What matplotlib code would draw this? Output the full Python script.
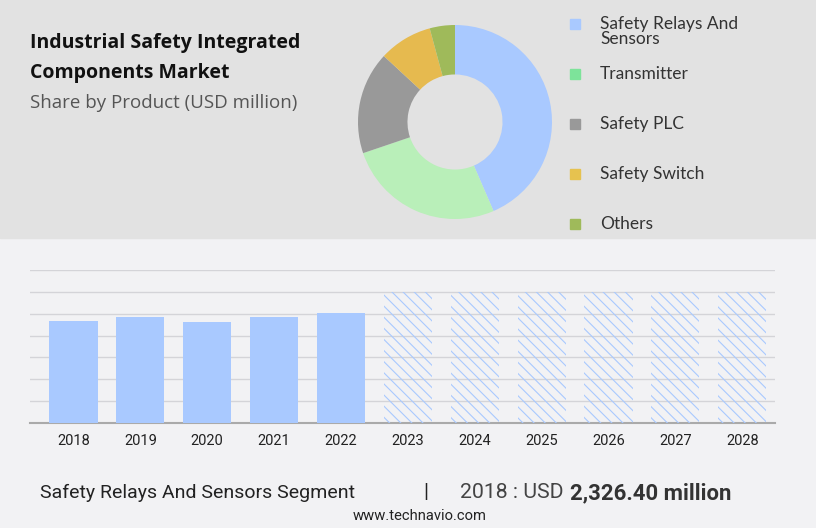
import matplotlib
matplotlib.use("Agg")
import matplotlib.pyplot as plt
from matplotlib.patches import Rectangle
from matplotlib import font_manager

# ---- data ----
years = ["2018", "2019", "2020", "2021", "2022", "2023", "2024", "2025", "2026", "2027", "2028"]
hist_values = [2326.40, 2420, 2320, 2420, 2515]
forecast_values = [3000, 3000, 3000, 3000, 3000, 3000]
segments = ["Safety Relays And\nSensors", "Transmitter", "Safety PLC", "Safety Switch", "Others"]
shares = [43.5, 26.3, 17.1, 8.9, 4.2]
pie_colors = ["#a9c9ff", "#b9efb9", "#999999", "#e6ba4f", "#9fba5a"]
legend_colors = ["#a9c9ff", "#7de39a", "#999999", "#e6c24f", "#9fba5a"]
y_ticks = [0, 500, 1000, 1500, 2000, 2500, 3000, 3500]

names = {f.name for f in font_manager.fontManager.ttflist}
narrow = "Liberation Sans Narrow" in names
foot_fam = ["Liberation Sans Narrow", "DejaVu Sans"] if narrow else ["Roboto", "DejaVu Sans"]
fs_scale = 1.0 if narrow else 0.85

W, H = 816, 528
fig = plt.figure(figsize=(W / 100, H / 100), dpi=100)
fig.patch.set_facecolor("#f2f2f4")
plt.rcParams["hatch.linewidth"] = 0.8

# top band
bg = fig.add_axes([0, 0, 1, 1])
bg.set_xlim(0, W)
bg.set_ylim(H, 0)
bg.axis("off")
bg.add_patch(Rectangle((0, 0), W, 238, color="#e2e2e2", zorder=0))

# titles
bg.text(30, 43, "Industrial Safety Integrated", fontsize=14, fontweight="bold",
        family=["Open Sans", "DejaVu Sans"], color="#111111", va="center", ha="left")
bg.text(30, 73, "Components Market", fontsize=14, fontweight="bold",
        family=["Open Sans", "DejaVu Sans"], color="#111111", va="center", ha="left")
bg.text(30, 103, "Share by Product (USD million)", fontsize=13.5,
        family=["Open Sans", "DejaVu Sans"], color="#555555", va="center", ha="left")

# legend
leg_y = [24, 74, 124, 174, 224]
for yy, lab, col in zip(leg_y, segments, legend_colors):
    bg.add_patch(Rectangle((570, yy - 5), 10, 10, color=col, zorder=2))
    lines = lab.split("\n")
    for k, ln in enumerate(lines):
        bg.text(600, yy + 15 * k, ln, fontsize=12.5, family=["Lato", "DejaVu Sans"],
                color="#333333", va="center")

# donut
cx, cy, r = 455, 122, 97
pax = fig.add_axes([(cx - r) / W, 1 - (cy + r) / H, 2 * r / W, 2 * r / H])
pax.pie(shares, colors=pie_colors, startangle=90, counterclock=False,
        wedgeprops=dict(width=0.51, linewidth=0))
pax.set_xlim(-1, 1)
pax.set_ylim(-1, 1)
pax.set_aspect("equal")
pax.axis("off")

# bar chart
ax = fig.add_axes([30 / W, (H - 423) / H, 745 / W, 153 / H])
ax.set_facecolor("none")
x_hist = list(range(len(hist_values)))
x_fc = list(range(len(hist_values), len(years)))
ax.bar(x_hist, hist_values, width=0.72, color="#a9c9ff", zorder=3)
ax.bar(x_fc, forecast_values, width=0.72, facecolor="none", edgecolor="#a9c9ff",
       linewidth=0, hatch="\\" * 3, zorder=3)
ax.set_xlim(-0.65, 10.49)
ax.set_ylim(0, 3500)
ax.set_yticks(y_ticks)
ax.yaxis.grid(True, color="#d4d4d8", linewidth=1)
ax.set_axisbelow(True)
ax.tick_params(axis="y", length=0, labelleft=False)
ax.tick_params(axis="x", length=0, pad=8, labelsize=10.5, colors="#222222")
ax.set_xticks(range(len(years)))
ax.set_xticklabels(years, family=["Roboto", "DejaVu Sans"])
for s in ["top", "right", "left"]:
    ax.spines[s].set_visible(False)
ax.spines["bottom"].set_color("#aaaaaa")
ax.spines["bottom"].set_linewidth(1.5)

# footer
bg.text(40, 493, "Safety Relays And Sensors Segment", fontsize=16.5 * fs_scale,
        family=foot_fam, color="#222222", va="center")
bg.text(423, 493, "|", fontsize=15, family=foot_fam, color="#222222", va="center")
bg.text(460, 493, "2018 : USD ", fontsize=18 * fs_scale, family=foot_fam, color="#444444", va="center")
bg.text(570, 493, "2,326.40 million", fontsize=18.8 * fs_scale, fontweight="bold",
        family=foot_fam, color="#333333", va="center")
bg.text(420, 516, "www.technavio.com", fontsize=12.5 * fs_scale, family=foot_fam,
        color="#222222", va="center", ha="center")

fig.savefig("out.png", dpi=100, facecolor=fig.get_facecolor())
